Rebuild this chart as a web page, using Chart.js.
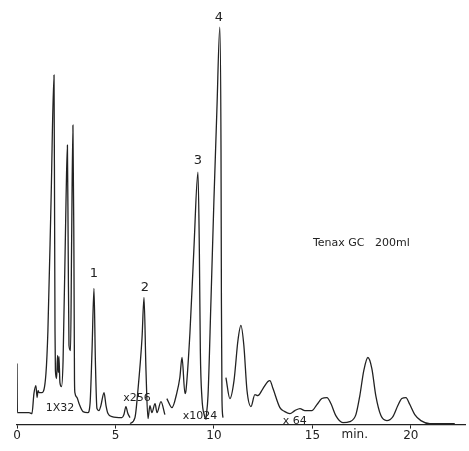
<!DOCTYPE html>
<html>
<head>
<meta charset="utf-8">
<script src="https://cdn.jsdelivr.net/npm/chart.js@4"></script>
<style>
    html, body { margin: 0; padding: 0; background: #fff; }
    canvas { display: block; }
</style>
</head>
<body>
<canvas id="gc-chart" width="469" height="451"></canvas>
<script>
// retention time (min) and detector signal for each attenuation segment
const seg1Time = [0, 0.02, 0.61, 0.76, 0.86, 0.96, 1.02, 1.07, 1.12, 1.27, 1.47, 1.57, 1.73, 1.88, 1.91, 1.93, 1.95,
    2.01, 2.06, 2.10, 2.13, 2.18, 2.26, 2.34, 2.49, 2.56, 2.60, 2.64, 2.72, 2.77, 2.84, 2.89, 2.92, 2.94, 3.05, 3.15,
    3.35, 3.60, 3.71, 3.81, 3.91, 3.98, 4.06, 4.16, 4.26, 4.42, 4.52, 4.62, 4.82, 5.33, 5.43, 5.53, 5.63, 5.74];
const seg1Signal = [61, 12, 12, 11, 31, 39, 27, 34, 32, 32, 51, 94, 224, 349, 200, 94, 54,
    46, 69, 52, 68, 42, 38, 64, 224, 279, 174, 79, 74, 174, 299, 174, 44, 32, 27, 21,
    13, 12, 21, 74, 136, 64, 16, 14, 19, 32, 19, 11, 8, 7, 10, 18, 11, 7];

const seg2Time = [5.74, 5.99, 6.14, 6.35, 6.45, 6.55, 6.65, 6.75, 6.85, 7.01, 7.11, 7.31, 7.51];
const seg2Signal = [1, 7, 34, 87, 127, 54, 6, 19, 12, 21, 12, 23, 10];

const seg3Time = [7.61, 7.87, 8.12, 8.27, 8.38, 8.53, 8.58, 8.78, 8.98, 9.19, 9.26, 9.31, 9.39, 9.54];
const seg3Signal = [26, 17, 32, 47, 67, 31, 34, 91, 174, 252, 174, 74, 27, 7];

const seg4Time = [9.59, 9.70, 9.85, 10.0, 10.15, 10.30, 10.36, 10.38, 10.41, 10.46];
const seg4Signal = [5, 29, 124, 224, 314, 397, 274, 124, 24, 7];

const seg5Time = [10.61, 10.81, 11.02, 11.22, 11.37, 11.52, 11.68, 11.88, 12.08, 12.23, 12.49, 12.74, 12.84, 13.0,
    13.35, 13.60, 13.86, 14.11, 14.37, 14.62, 14.97, 15.23, 15.48, 15.74, 15.94, 16.19, 16.55, 16.90, 17.21, 17.41,
    17.61, 17.82, 18.02, 18.22, 18.48, 18.78, 19.09, 19.34, 19.54, 19.75, 19.95, 20.20, 20.51, 20.96, 21.47, 22.23];
const seg5Signal = [47, 26, 44, 84, 99, 79, 34, 18, 30, 29, 36, 43, 44, 36,
    17, 13, 11, 14, 16, 14, 14, 20, 26, 27, 21, 9, 2, 3, 10, 29,
    54, 67, 56, 29, 9, 4, 8, 19, 26, 27, 20, 10, 4, 1, 1, 1];

const xTicks = [0, 5, 10, 15, 20];
const axisUnit = 'min.';

// text written on the trace: [text, time, signal]
const noteTexts = ['1', '2', '3', '4', '1X32', 'x256', 'x1024', 'x 64', 'Tenax GC   200ml'];
const noteTimes = [3.91, 6.50, 9.19, 10.25, 2.18, 6.09, 9.29, 14.11, 15.03];
const noteSignals = [151, 137, 264, 406, 16, 26, 8, 3, 181];

const segments = [
    [seg1Time, seg1Signal],
    [seg2Time, seg2Signal],
    [seg3Time, seg3Signal],
    [seg4Time, seg4Signal],
    [seg5Time, seg5Signal]
];

const notesPlugin = {
    id: 'notes',
    afterDatasetsDraw(chart) {
        const ctx = chart.ctx;
        const xs = chart.scales.x;
        const ys = chart.scales.y;
        ctx.save();
        ctx.fillStyle = '#222';
        ctx.textBaseline = 'middle';
        noteTexts.forEach((text, i) => {
            const px = xs.getPixelForValue(noteTimes[i]);
            const py = ys.getPixelForValue(noteSignals[i]);
            if (text.length === 1) {
                ctx.font = '13px "DejaVu Sans"';
                ctx.textAlign = 'center';
            } else if (text.startsWith('Tenax')) {
                ctx.font = '11px "DejaVu Sans"';
                ctx.textAlign = 'left';
            } else {
                ctx.font = '11px "DejaVu Sans"';
                ctx.textAlign = 'center';
            }
            ctx.fillText(text, px, py);
        });
        // unit name sits among the tick labels
        ctx.font = '12px "DejaVu Sans"';
        ctx.textAlign = 'center';
        ctx.fillText(axisUnit, xs.getPixelForValue(17.15), xs.top + 10);
        ctx.restore();
    }
};

new Chart(document.getElementById('gc-chart').getContext('2d'), {
    type: 'line',
    data: {
        datasets: segments.map(([times, signal]) => ({
            data: times.map((t, i) => ({ x: t, y: signal[i] })),
            borderColor: '#222',
            borderWidth: 1.3,
            pointRadius: 0,
            cubicInterpolationMode: 'monotone',
            fill: false
        }))
    },
    options: {
        responsive: false,
        animation: false,
        layout: {
            padding: { left: 17, right: 4, top: 0, bottom: 8 }
        },
        plugins: {
            legend: { display: false },
            tooltip: { enabled: false }
        },
        scales: {
            x: {
                type: 'linear',
                min: 0,
                max: 22.75,
                afterBuildTicks: scale => {
                    scale.ticks = xTicks.map(v => ({ value: v }));
                },
                ticks: {
                    color: '#222',
                    font: { family: 'DejaVu Sans', size: 12 },
                    padding: 0,
                    maxRotation: 0
                },
                grid: {
                    drawOnChartArea: false,
                    drawTicks: true,
                    tickLength: 4,
                    color: '#222'
                },
                border: { display: true, color: '#222', width: 1.3 }
            },
            y: {
                display: false,
                min: 0,
                max: 424
            }
        }
    },
    plugins: [notesPlugin]
});
</script>
</body>
</html>
